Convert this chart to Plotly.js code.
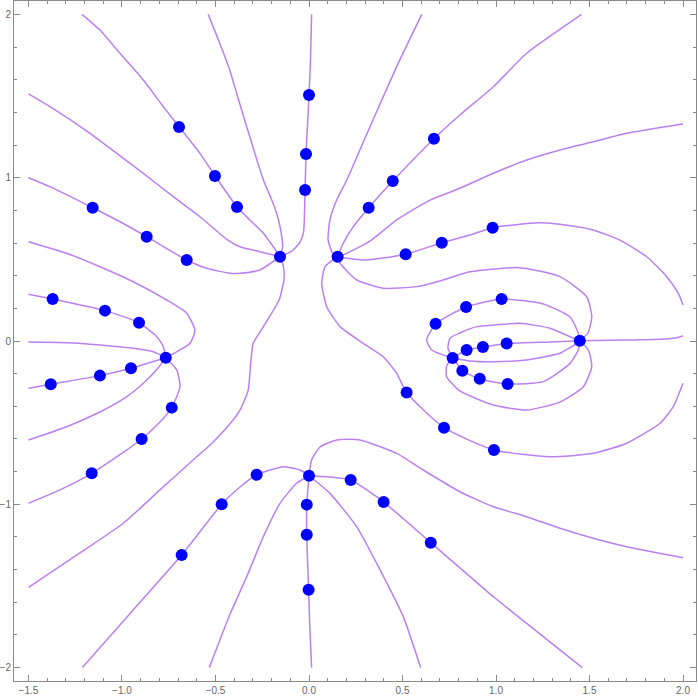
<!DOCTYPE html>
<html>
<head>
<meta charset="utf-8">
<script src="https://cdn.plot.ly/plotly-3.0.1.min.js"></script>
<style>
  html, body { margin: 0; padding: 0; background: #fff; }
  #chart { width: 698px; height: 699px; }
</style>
</head>
<body>
<div id="chart"></div>
<script>
// traced curves, [x, y] pairs in data units
const curveNW1 = [[-1.214,2.0],[-1.118,1.904],[-1.011,1.762],[-0.886,1.598],[-0.779,1.435],[-0.695,1.312],[-0.583,1.149],[-0.503,1.012],[-0.385,0.822],[-0.316,0.741],[-0.244,0.660],[-0.191,0.577],[-0.155,0.516]];
const curveNW2 = [[-1.5,1.513],[-1.385,1.435],[-1.171,1.272],[-1.028,1.149],[-0.886,1.027],[-0.726,0.884],[-0.583,0.761],[-0.440,0.623],[-0.369,0.577],[-0.262,0.547],[-0.155,0.516]];
const curveNW3 = [[-1.5,1.0],[-1.385,0.945],[-1.157,0.816],[-1.028,0.741],[-0.868,0.639],[-0.654,0.496],[-0.547,0.445],[-0.422,0.415],[-0.369,0.415],[-0.262,0.435],[-0.155,0.516]];
const curveNW4 = [[-0.539,2.0],[-0.484,1.843],[-0.424,1.660],[-0.380,1.490],[-0.333,1.312],[-0.244,0.986],[-0.199,0.863],[-0.173,0.782],[-0.155,0.700],[-0.141,0.577],[-0.155,0.516]];
const curveTop = [[0.014,2.0],[0.008,1.721],[0.0,1.506],[-0.008,1.323],[-0.016,1.145],[-0.021,0.925],[-0.024,0.784],[-0.029,0.667],[-0.048,0.606],[-0.091,0.551],[-0.155,0.516]];
const curveMidLeft = [[-0.155,0.516],[-0.137,0.459],[-0.134,0.374],[-0.160,0.251],[-0.244,0.088],[-0.298,-0.014],[-0.312,-0.137],[-0.325,-0.300],[-0.369,-0.423],[-0.433,-0.521],[-0.529,-0.637],[-0.620,-0.729],[-0.797,-0.912],[-0.993,-1.116],[-1.225,-1.298],[-1.5,-1.508]];

const curveW1 = [[-1.5,-0.006],[-1.296,-0.010],[-1.118,-0.024],[-0.940,-0.045],[-0.833,-0.066],[-0.766,-0.102]];
const curveW2 = [[-1.5,0.608],[-1.296,0.537],[-1.118,0.455],[-0.940,0.363],[-0.761,0.251],[-0.654,0.170],[-0.610,0.067],[-0.636,-0.014],[-0.707,-0.066],[-0.766,-0.102]];
const curveW3 = [[-1.5,0.286],[-1.371,0.257],[-1.091,0.186],[-0.909,0.112],[-0.814,0.026],[-0.779,-0.035],[-0.766,-0.102]];
const curveW4 = [[-1.5,-0.290],[-1.381,-0.265],[-1.118,-0.212],[-0.952,-0.167],[-0.850,-0.132],[-0.766,-0.102]];
const curveW5 = [[-1.5,-0.606],[-1.296,-0.525],[-1.118,-0.435],[-0.984,-0.349],[-0.886,-0.259],[-0.807,-0.165],[-0.766,-0.102]];
const curveW6 = [[-0.766,-0.102],[-0.707,-0.178],[-0.690,-0.280],[-0.734,-0.408],[-0.797,-0.496],[-0.895,-0.600],[-1.021,-0.704],[-1.162,-0.810],[-1.332,-0.912],[-1.5,-0.994]];

const curveS1 = [[-1.212,-2.0],[-0.940,-1.647],[-0.681,-1.311],[-0.467,-1.0],[-0.369,-0.894],[-0.280,-0.819],[-0.137,-0.770],[-0.048,-0.790],[0.0,-0.825]];
const curveS2 = [[-0.533,-2.0],[-0.422,-1.672],[-0.333,-1.443],[-0.244,-1.198],[-0.155,-0.994],[-0.066,-0.871],[0.0,-0.825]];
const curveS3 = [[0.0,-0.825],[-0.012,-1.002],[-0.012,-1.186],[-0.008,-1.341],[-0.002,-1.523],[0.005,-1.770],[0.014,-2.0]];
const curveS4 = [[0.0,-0.825],[0.112,-0.933],[0.255,-1.137],[0.380,-1.402],[0.504,-1.688],[0.597,-2.0]];
const curveS5 = [[0.0,-0.825],[0.112,-0.833],[0.223,-0.851],[0.399,-0.986],[0.651,-1.235],[0.861,-1.443],[0.986,-1.566],[1.164,-1.729],[1.461,-2.0]];
const curveS6 = [[0.0,-0.825],[0.014,-0.729],[0.059,-0.649],[0.148,-0.606],[0.273,-0.606],[0.469,-0.688],[0.611,-0.790],[0.807,-0.923],[0.986,-1.015],[1.164,-1.076],[1.342,-1.147],[1.520,-1.208],[1.699,-1.260],[2.0,-1.327]];

const curveNE1 = [[0.603,2.0],[0.469,1.680],[0.326,1.312],[0.202,0.986],[0.148,0.863],[0.112,0.741],[0.102,0.619],[0.123,0.545],[0.153,0.516]];
const curveNE2 = [[0.153,0.516],[0.183,0.598],[0.237,0.700],[0.319,0.816],[0.448,0.980],[0.668,1.239],[0.807,1.384],[0.986,1.557],[1.164,1.762],[1.458,2.0]];
const curveNE3 = [[0.153,0.516],[0.202,0.537],[0.326,0.612],[0.469,0.741],[0.647,0.863],[0.807,0.935],[0.986,1.027],[1.164,1.108],[1.342,1.170],[1.520,1.220],[1.699,1.272],[2.0,1.329]];
const curveLoopTop = [[0.153,0.516],[0.290,0.496],[0.406,0.510],[0.517,0.531],[0.710,0.602],[0.861,0.649],[0.982,0.694],[1.235,0.724],[1.432,0.700],[1.520,0.680],[1.663,0.618],[1.806,0.516],[1.913,0.394],[1.975,0.292],[2.0,0.220]];
const curveLoopBottom = [[2.0,-0.259],[1.948,-0.402],[1.877,-0.504],[1.699,-0.626],[1.520,-0.688],[1.289,-0.709],[0.989,-0.667],[0.722,-0.531],[0.522,-0.317],[0.469,-0.198],[0.397,-0.096],[0.290,-0.014],[0.166,0.088],[0.095,0.210],[0.068,0.353],[0.086,0.455],[0.153,0.516]];
const curveNE4 = [[0.153,0.516],[0.166,0.476],[0.255,0.374],[0.397,0.323],[0.576,0.333],[0.718,0.374],[0.861,0.424],[1.128,0.449],[1.342,0.394],[1.485,0.271],[1.512,0.149],[1.492,0.049],[1.448,0.002]];

const curveE0 = [[1.448,0.002],[1.699,0.006],[1.877,0.010],[1.957,0.018],[2.0,0.031]];
const curveE1 = [[1.448,0.002],[1.440,0.049],[1.396,0.147],[1.253,0.227],[1.030,0.257],[0.840,0.208],[0.678,0.106],[0.629,0.006],[0.656,-0.055],[0.768,-0.104]];
const curveE2 = [[0.768,-0.104],[0.743,-0.043],[0.754,0.017],[0.807,0.049],[0.897,0.088],[0.986,0.098],[1.128,0.108],[1.289,0.078],[1.396,0.026],[1.448,0.002]];
const curveE3 = [[0.768,-0.104],[0.843,-0.055],[0.930,-0.037],[1.057,-0.016],[1.289,-0.006],[1.448,0.002]];
const curveE4 = [[0.768,-0.104],[0.861,-0.122],[0.986,-0.127],[1.164,-0.116],[1.342,-0.075],[1.432,-0.014],[1.448,0.002]];
const curveE5 = [[0.768,-0.104],[0.825,-0.184],[0.914,-0.233],[1.063,-0.263],[1.253,-0.249],[1.396,-0.137],[1.440,-0.055],[1.448,0.002]];
const curveE6 = [[0.768,-0.104],[0.736,-0.153],[0.736,-0.219],[0.807,-0.306],[0.986,-0.392],[1.164,-0.423],[1.342,-0.374],[1.467,-0.280],[1.512,-0.157],[1.494,-0.055],[1.448,0.002]];

// blue points
const pointX = [
  -0.695, -0.503, -0.385, -1.157, -0.868, -0.654, -0.155,
  -1.371, -1.091, -0.909, -0.766, -0.952, -1.118, -1.381, -0.734, -0.895, -1.162, -0.467, -0.681,
  0.0, -0.016, -0.021,
  0.668, 0.448, 0.319, 0.153, 0.517, 0.710, 0.982,
  0.677, 0.840, 1.030, 0.843, 0.930, 1.057, 1.448, 0.768, 0.820, 0.913, 1.062,
  0.522, 0.722, 0.989,
  0.0, -0.280, 0.223, -0.012, 0.399, 0.651, -0.012, -0.002
];
const pointY = [
  1.310, 1.010, 0.821, 0.816, 0.639, 0.496, 0.516,
  0.257, 0.186, 0.112, -0.102, -0.167, -0.212, -0.265, -0.408, -0.600, -0.810, -1.000, -1.310,
  1.506, 1.145, 0.925,
  1.239, 0.980, 0.816, 0.516, 0.531, 0.602, 0.694,
  0.106, 0.208, 0.257, -0.055, -0.037, -0.016, 0.002, -0.104, -0.182, -0.231, -0.263,
  -0.316, -0.531, -0.667,
  -0.825, -0.819, -0.851, -1.002, -0.986, -1.235, -1.186, -1.523
];

const curves = [
  curveNW1, curveNW2, curveNW3, curveNW4, curveTop, curveMidLeft,
  curveW1, curveW2, curveW3, curveW4, curveW5, curveW6,
  curveS1, curveS2, curveS3, curveS4, curveS5, curveS6,
  curveNE1, curveNE2, curveNE3, curveLoopTop, curveLoopBottom, curveNE4,
  curveE0, curveE1, curveE2, curveE3, curveE4, curveE5, curveE6,
];

const curveColor = "rgb(186,128,242)";
const frameColor = "#8a8a8a";

const traces = curves.map((c) => ({
  type: "scatter",
  mode: "lines",
  x: c.map((p) => p[0]),
  y: c.map((p) => p[1]),
  line: { color: curveColor, width: 1.5, shape: "spline", smoothing: 0.55 },
  hoverinfo: "skip",
}));

traces.push({
  type: "scatter",
  mode: "markers",
  x: pointX,
  y: pointY,
  marker: { color: "#0000ff", size: 12 },
});

const tickFont = { family: "Liberation Sans, Arial, sans-serif", size: 10, color: "#666" };

const layout = {
  width: 698,
  height: 699,
  margin: { l: 14, r: 2, t: 1, b: 18 },
  showlegend: false,
  paper_bgcolor: "#fff",
  plot_bgcolor: "#fff",
  xaxis: {
    range: [-1.5775, 2.0695],
    tick0: 0,
    dtick: 0.5,
    tickformat: ".1f",
    ticks: "inside",
    ticklen: 6,
    tickcolor: frameColor,
    showline: true,
    linecolor: frameColor,
    linewidth: 1,
    mirror: "allticks",
    showgrid: false,
    zeroline: false,
    tickfont: tickFont,
    minor: { ticks: "inside", ticklen: 3, dtick: 0.1, tick0: 0, tickcolor: frameColor, showgrid: false },
  },
  yaxis: {
    range: [-2.082, 2.082],
    tick0: 0,
    dtick: 1,
    tickformat: "d",
    ticks: "inside",
    ticklen: 6,
    tickcolor: frameColor,
    showline: true,
    linecolor: frameColor,
    linewidth: 1,
    mirror: "allticks",
    showgrid: false,
    zeroline: false,
    tickfont: tickFont,
    minor: { ticks: "inside", ticklen: 3, dtick: 0.2, tick0: 0, tickcolor: frameColor, showgrid: false },
  },
};

Plotly.newPlot("chart", traces, layout, { displayModeBar: false, staticPlot: true });
</script>
</body>
</html>
